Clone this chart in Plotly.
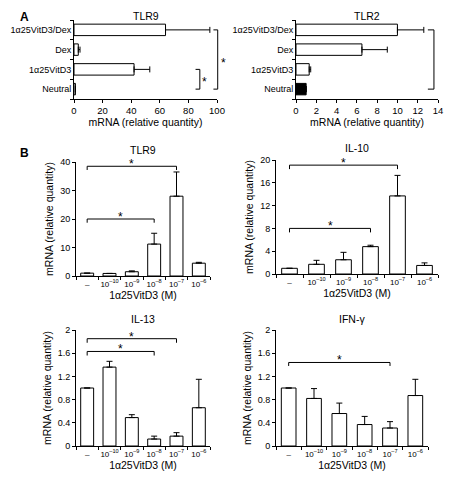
import plotly.graph_objects as go

# ---------------- data ----------------
A_cats = ["Neutral", "1α25VitD3", "Dex", "1α25VitD3/Dex"]
tlr9_A = [1.0, 42.0, 3.0, 64.0]
tlr9_A_top = [1.0, 53.0, 4.2, 95.0]
tlr2_A = [1.0, 1.3, 6.5, 10.0]
tlr2_A_top = [1.0, 1.45, 9.0, 12.6]

B_cats = ["–", "10<sup>–10</sup>", "10<sup>–9</sup>", "10<sup>–8</sup>",
          "10<sup>–7</sup>", "10<sup>–6</sup>"]
tlr9_B = [1.0, 0.9, 1.5, 11.2, 28.0, 4.5]
tlr9_B_top = [1.0, 0.9, 1.8, 15.0, 36.5, 4.8]
il10_B = [1.0, 1.7, 2.5, 4.8, 13.7, 1.5]
il10_B_top = [1.0, 2.4, 3.8, 5.05, 17.3, 1.95]
il13_B = [1.0, 1.36, 0.49, 0.12, 0.17, 0.66]
il13_B_top = [1.0, 1.46, 0.54, 0.17, 0.23, 1.15]
ifng_B = [1.0, 0.82, 0.56, 0.37, 0.31, 0.87]
ifng_B_top = [1.0, 0.99, 0.74, 0.51, 0.42, 1.15]

FONT = "Liberation Sans, Arial, sans-serif"
OFF = 8                      # page body margin
W, H = 453 - OFF, 480 - OFF  # figure size that fits the window

fig = go.Figure()

def err(vals, tops):
    return [t - v for v, t in zip(vals, tops)]

# ---------- Panel A ----------
fig.add_trace(go.Bar(
    y=A_cats, x=tlr9_A, orientation="h", xaxis="x", yaxis="y",
    marker=dict(color="white", line=dict(color="black", width=1)),
    error_x=dict(type="data", symmetric=False, array=err(tlr9_A, tlr9_A_top),
                 arrayminus=[0] * 4, color="black", thickness=1, width=3),
    showlegend=False))
fig.add_trace(go.Bar(
    y=A_cats, x=tlr2_A, orientation="h", xaxis="x2", yaxis="y2",
    marker=dict(color=["black", "white", "white", "white"],
                line=dict(color="black", width=1)),
    error_x=dict(type="data", symmetric=False, array=err(tlr2_A, tlr2_A_top),
                 arrayminus=[0] * 4, color="black", thickness=1, width=3),
    showlegend=False))

# ---------- Panel B ----------
B_sets = [(tlr9_B, tlr9_B_top, "x3", "y3"),
          (il10_B, il10_B_top, "x4", "y4"),
          (il13_B, il13_B_top, "x5", "y5"),
          (ifng_B, ifng_B_top, "x6", "y6")]
for vals, tops, xa, ya in B_sets:
    fig.add_trace(go.Bar(
        x=B_cats, y=vals, xaxis=xa, yaxis=ya,
        marker=dict(color="white", line=dict(color="black", width=1)),
        error_y=dict(type="data", symmetric=False, array=err(vals, tops),
                     arrayminus=[0] * 6, color="black", thickness=1, width=3),
        showlegend=False))

# ---------- axes ----------
def px_x(a, b):
    return [(a - OFF) / W, (b - OFF) / W]

def px_y(top, bottom):
    return [1 - (bottom - OFF) / H, 1 - (top - OFF) / H]

def fx(a):
    return (a - OFF) / W

def fy(b):
    return 1 - (b - OFF) / H

a_ytick = dict(family=FONT, size=9, color="black")
a_xtick = dict(family=FONT, size=9.5, color="black")
small_tick = dict(family=FONT, size=8, color="black")
title_font = dict(family=FONT, size=10.5, color="black")

common = dict(showline=True, linecolor="black", linewidth=1, ticks="outside",
              ticklen=3, tickcolor="black", showgrid=False, zeroline=False,
              fixedrange=True, automargin=False, tickangle=0)

lay = dict(
    width=W, height=H, margin=dict(l=0, r=0, t=0, b=0, autoexpand=False),
    paper_bgcolor="white", plot_bgcolor="white", bargap=0.42,
    font=dict(family=FONT, color="black"), showlegend=False,
    # A TLR9
    xaxis=dict(domain=px_x(74, 217), anchor="y", range=[0, 100], dtick=20,
               tickfont=a_xtick, title=dict(text="mRNA (relative quantity)",
               font=title_font, standoff=1), **common),
    yaxis=dict(domain=px_y(20, 99), anchor="x", type="category",
               tickson="boundaries", tickfont=a_ytick, **common),
    # A TLR2
    xaxis2=dict(domain=px_x(296, 438), anchor="y2", range=[0, 14], dtick=2,
                tickfont=a_xtick, title=dict(text="mRNA (relative quantity)",
                font=title_font, standoff=1), **common),
    yaxis2=dict(domain=px_y(20, 99), anchor="x2", type="category",
                tickson="boundaries", tickfont=a_ytick, **common),
)

B_geo = [("3", px_x(76, 210), px_y(162, 276), [0, 40], 10),
         ("4", px_x(276, 438), px_y(160, 274), [0, 20], 4),
         ("5", px_x(76, 210), px_y(330, 446), [0, 2], 0.4),
         ("6", px_x(276, 428), px_y(330, 446), [0, 2], 0.4)]
for n, dx, dy, rng, dt in B_geo:
    lay["xaxis" + n] = dict(domain=dx, anchor="y" + n, type="category",
                            tickson="boundaries", tickfont=small_tick,
                            range=[-0.5, 5.5],
                            title=dict(text="1α25VitD3 (M)", font=title_font,
                                       standoff=3), **common)
    lay["yaxis" + n] = dict(domain=dy, anchor="x" + n, range=rng, dtick=dt,
                            tickfont=dict(family=FONT, size=9, color="black"),
                            title=dict(text="mRNA (relative quantity)",
                                       font=title_font, standoff=4), **common)
fig.update_layout(**lay)

# ---------- titles / labels ----------
def title(text, xa, y_px, top=False):
    dom = fig.layout[xa].domain
    fig.add_annotation(text=text, xref="paper", yref="paper",
                       x=(dom[0] + dom[1]) / 2,
                       y=1 if top else fy(y_px), showarrow=False,
                       xanchor="center", yanchor="top" if top else "middle",
                       font=dict(family=FONT, size=10.5, color="black"))

title("TLR9", "xaxis", 12, top=True)
title("TLR2", "xaxis2", 12, top=True)
title("TLR9", "xaxis3", 150)
title("IL-10", "xaxis4", 148)
title("IL-13", "xaxis5", 319)
title("IFN-γ", "xaxis6", 319)

fig.add_annotation(text="<b>A</b>", xref="paper", yref="paper",
                   x=fx(24), y=1, showarrow=False, xanchor="center",
                   yanchor="top", font=dict(family=FONT, size=12, color="black"))
fig.add_annotation(text="<b>B</b>", xref="paper", yref="paper",
                   x=fx(24), y=fy(153), showarrow=False, xanchor="center",
                   yanchor="middle", font=dict(family=FONT, size=12, color="black"))

line = dict(color="black", width=1)

def star(xref, yref, x, y, xanchor="center", yanchor="bottom", yshift=0):
    fig.add_annotation(text="*", xref=xref, yref=yref, x=x, y=y,
                       showarrow=False, xanchor=xanchor, yanchor=yanchor,
                       yshift=yshift,
                       font=dict(family=FONT, size=12, color="black"))

# A brackets (vertical, from top category to Neutral)
def a_pos(i):
    return (i + 0.5) / len(A_cats)

# TLR9 big bracket (at right edge of axis)
fig.add_shape(type="path", xref="x domain", yref="y domain", line=line,
              path=f"M 0.975 {a_pos(3)} L 1.005 {a_pos(3)} L 1.005 {a_pos(0)} L 0.975 {a_pos(0)}")
star("x domain", "y domain", 1.045, (a_pos(3) + a_pos(0)) / 2, "center", "middle", -3)
# TLR9 small bracket
fig.add_shape(type="path", xref="x", yref="y", line=line,
              path="M 85 1 L 88 1 L 88 0 L 85 0")
star("x", "y", 91.5, 0.5, "center", "middle", -3)
# TLR2 bracket
fig.add_shape(type="path", xref="x2", yref="y2", line=line,
              path="M 13.0 3 L 13.6 3 L 13.6 0 L 13.0 0")
star("x2", "y2", 14.2, 1.5, "center", "middle", -3)

# B brackets: (axis suffix, from idx, to idx, y level, drop)
brackets = [("3", 0, 4, 38.5, 1.3), ("3", 0, 3, 20.0, 1.3),
            ("4", 0, 4, 19.1, 0.7), ("4", 0, 3, 8.0, 0.7),
            ("5", 0, 4, 1.85, 0.07), ("5", 0, 3, 1.63, 0.07),
            ("6", 0, 4, 1.44, 0.06)]
for n, i0, i1, yv, d in brackets:
    fig.add_shape(type="path", xref="x" + n, yref="y" + n, line=line,
                  path=f"M {i0} {yv - d} L {i0} {yv} L {i1} {yv} L {i1} {yv - d}")
    star("x" + n, "y" + n, (i0 + i1) / 2, yv, yshift=-7)

fig.write_html("out.html")
